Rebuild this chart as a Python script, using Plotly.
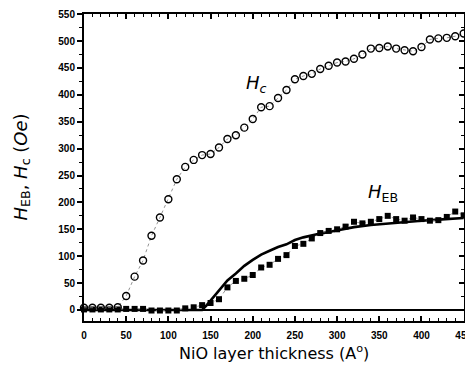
import plotly.graph_objects as go

thickness = list(range(0, 451, 10))
hc = [4, 4, 4, 4, 5, 26, 62, 92, 138, 172, 206, 243, 266, 279, 288, 290, 302, 318, 325,
      339, 355, 377, 379, 394, 409, 429, 435, 439, 448, 454, 460, 462, 467, 475, 486,
      487, 490, 486, 483, 481, 489, 503, 505, 506, 509, 514]
heb = [1, 1, 1, 1, 1, 2, 2, 2, -1, -1, -1, -1, 3, 5, 9, 13, 20, 42, 54, 58, 65, 79, 84,
       95, 102, 119, 123, 133, 143, 147, 150, 155, 164, 161, 164, 169, 175, 169, 166,
       172, 169, 166, 167, 173, 183, 176]

fit_x = [0, 140, 145, 150, 160, 170, 180, 190, 200, 210, 220, 230, 240, 250, 260, 270,
         280, 290, 300, 320, 340, 360, 380, 400, 420, 440, 450]
fit_y = [0, 0, 8, 17, 36, 55, 68, 82, 93, 103, 110, 117, 122, 130, 135, 139,
         142, 145, 148, 154, 158, 161, 164, 166, 168, 170, 171]

x_ticks = list(range(0, 451, 50))
y_ticks = list(range(0, 551, 50))
X_RANGE = [0, 450.4]
Y_RANGE = [-20.5, 550.3]

fig = go.Figure()
fig.add_trace(go.Scatter(x=fit_x, y=fit_y, mode="lines",
                         line=dict(color="black", width=2.6), showlegend=False))
fig.add_trace(go.Scatter(x=thickness, y=heb, mode="markers+lines",
                         line=dict(color="#777", width=0.8, dash="dot"),
                         marker=dict(symbol="square", size=6, color="black"),
                         cliponaxis=False, showlegend=False))
fig.add_trace(go.Scatter(x=thickness, y=hc, mode="markers+lines",
                         line=dict(color="#777", width=0.8, dash="dot"),
                         marker=dict(symbol="circle-open", size=7, color="black",
                                     line=dict(width=1.4, color="black")),
                         cliponaxis=False, showlegend=False))
# invisible trace to activate the top/right tick axes
fig.add_trace(go.Scatter(x=[0], y=[0], xaxis="x2", yaxis="y2", mode="markers",
                         marker=dict(opacity=0), showlegend=False, hoverinfo="skip"))

tickfont = dict(family="Liberation Sans, Arial", size=10, color="black", weight="bold")

fig.update_layout(
    width=457, height=356,
    margin=dict(l=76, r=1, t=6, b=43),
    paper_bgcolor="white", plot_bgcolor="white",
    xaxis=dict(range=X_RANGE, tickvals=x_ticks, ticktext=[str(v) for v in x_ticks],
               ticks="inside", ticklen=5, tickwidth=1.5, tickcolor="black",
               minor=dict(dtick=10, ticks="inside", ticklen=3, tickwidth=1, tickcolor="black"),
               showline=True, linecolor="black", linewidth=2, mirror=True,
               showgrid=False, zeroline=False, tickfont=tickfont,
               ticklabeloverflow="allow", ticklabelstandoff=4, automargin=False),
    xaxis2=dict(range=X_RANGE, overlaying="x", side="top", anchor="y", tickvals=x_ticks,
                showticklabels=False, ticks="inside", ticklen=5, tickwidth=1.5,
                tickcolor="black",
                minor=dict(dtick=10, ticks="inside", ticklen=3, tickwidth=1, tickcolor="black"),
                showline=False, showgrid=False, zeroline=False, automargin=False),
    yaxis=dict(range=Y_RANGE, tickvals=y_ticks, ticktext=[str(v) for v in y_ticks],
               ticks="outside", ticklen=5, tickwidth=1.5, tickcolor="black",
               minor=dict(dtick=25, ticks="outside", ticklen=3, tickwidth=1, tickcolor="black"),
               showline=True, linecolor="black", linewidth=2, mirror=True,
               showgrid=False,
               zeroline=True, zerolinecolor="black", zerolinewidth=2,
               tickfont=tickfont, ticklabeloverflow="allow", automargin=False),
    yaxis2=dict(range=Y_RANGE, overlaying="y", side="right", anchor="x", tickvals=y_ticks,
                showticklabels=False, ticks="inside", ticklen=5, tickwidth=1.5,
                tickcolor="black",
                minor=dict(dtick=25, ticks="inside", ticklen=3, tickwidth=1, tickcolor="black"),
                showline=False, showgrid=False, zeroline=False, automargin=False),
    annotations=[
        dict(x=0.5, y=0, xref="paper", yref="paper", yanchor="middle", yshift=-31,
             text="NiO layer thickness (A<sup>o</sup>)", showarrow=False,
             font=dict(family="DejaVu Sans", size=16, color="black")),
        dict(x=0, y=0.5, xref="paper", yref="paper", xanchor="center", xshift=-63,
             textangle=-90, showarrow=False,
             text="<i>H</i><sub>EB</sub>, <i>H</i><sub>c</sub> (<i>Oe</i>)",
             font=dict(family="DejaVu Sans", size=18, color="black")),
        dict(x=205, y=420, text="<i>H</i><sub><i>c</i></sub>", showarrow=False,
             font=dict(family="DejaVu Sans", size=18, color="black")),
        dict(x=354, y=218, text="<i>H</i><sub>EB</sub>", showarrow=False,
             font=dict(family="DejaVu Sans", size=18, color="black")),
    ],
)

fig.write_html("out.html")
